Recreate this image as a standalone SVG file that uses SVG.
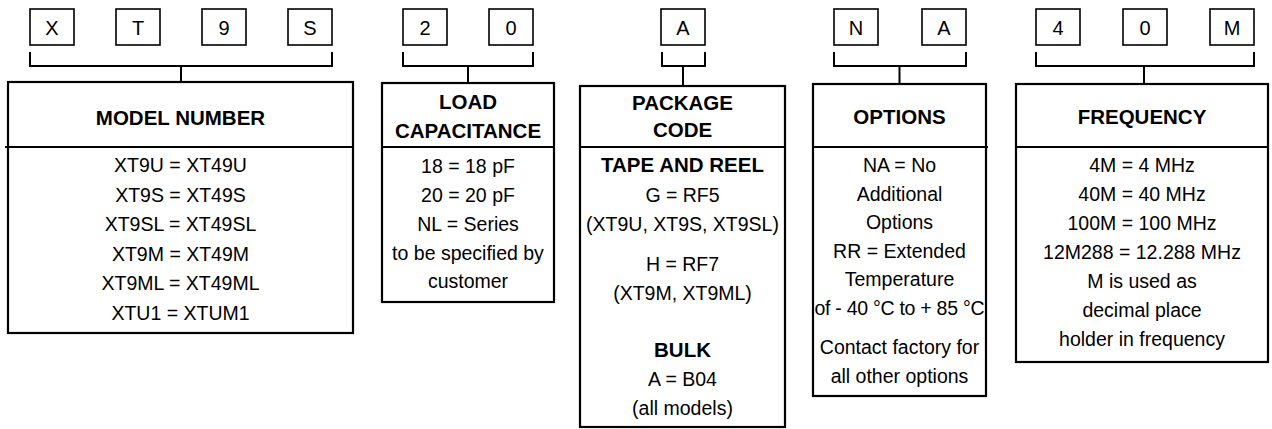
<svg xmlns="http://www.w3.org/2000/svg" width="1272" height="429" viewBox="0 0 1272 429">
<style>
.bg{fill:#ffffff}
.cell{fill:#ffffff;stroke:#000000;stroke-width:1.6}
.box{fill:#ffffff;stroke:#000000;stroke-width:2.2}
.div{stroke:#000000;stroke-width:2.2;fill:none}
.br{stroke:#000000;stroke-width:2;fill:none}
text{font-family:"Liberation Sans",Arial,Helvetica,sans-serif;fill:#000000;text-anchor:middle}
.ch{font-size:20px}
.t{font-size:20.5px;font-weight:bold}
.b{font-size:19.5px}
</style>
<rect class="bg" x="0" y="0" width="1272" height="429"/>

<g id="code-cells">
  <rect class="cell" x="30" y="9" width="44" height="36"/><text class="ch" x="52" y="34.5">X</text>
  <rect class="cell" x="116" y="9" width="44" height="36"/><text class="ch" x="138" y="34.5">T</text>
  <rect class="cell" x="202" y="9" width="44" height="36"/><text class="ch" x="224" y="34.5">9</text>
  <rect class="cell" x="288" y="9" width="44" height="36"/><text class="ch" x="310" y="34.5">S</text>
  <rect class="cell" x="403" y="9" width="44" height="36"/><text class="ch" x="425" y="34.5">2</text>
  <rect class="cell" x="489" y="9" width="44" height="36"/><text class="ch" x="511" y="34.5">0</text>
  <rect class="cell" x="661" y="9" width="44" height="36"/><text class="ch" x="683" y="34.5">A</text>
  <rect class="cell" x="834" y="9" width="44" height="36"/><text class="ch" x="856" y="34.5">N</text>
  <rect class="cell" x="922" y="9" width="44" height="36"/><text class="ch" x="944" y="34.5">A</text>
  <rect class="cell" x="1036" y="9" width="44" height="36"/><text class="ch" x="1058" y="34.5">4</text>
  <rect class="cell" x="1123" y="9" width="44" height="36"/><text class="ch" x="1145" y="34.5">0</text>
  <rect class="cell" x="1210" y="9" width="44" height="36"/><text class="ch" x="1232" y="34.5">M</text>
</g>

<g id="connectors">
  <path class="br" d="M30,52 V66 H332 V52 M181,66 V82"/>
  <path class="br" d="M403,52 V66 H533 V52 M468,66 V83"/>
  <path class="br" d="M662,52 V66 H705 V52 M683,66 V86"/>
  <path class="br" d="M834,52 V66 H966 V52 M899.5,66 V84"/>
  <path class="br" d="M1036,52 V66 H1254 V52 M1144,66 V84"/>
</g>

<g id="model-number">
  <rect class="box" x="8" y="82" width="345" height="251"/>
  <line class="div" x1="5" y1="147" x2="353" y2="147"/>
  <text class="t" x="180.5" y="125">MODEL NUMBER</text>
  <text class="b" x="180.5" y="172">XT9U = XT49U</text>
  <text class="b" x="180.5" y="201.5">XT9S = XT49S</text>
  <text class="b" x="180.5" y="231">XT9SL = XT49SL</text>
  <text class="b" x="180.5" y="260.5">XT9M = XT49M</text>
  <text class="b" x="180.5" y="290">XT9ML = XT49ML</text>
  <text class="b" x="180.5" y="320">XTU1 = XTUM1</text>
</g>

<g id="load-capacitance">
  <rect class="box" x="382" y="83" width="172" height="219"/>
  <line class="div" x1="382" y1="147" x2="554" y2="147"/>
  <text class="t" x="468" y="109">LOAD</text>
  <text class="t" x="468" y="138">CAPACITANCE</text>
  <text class="b" x="468" y="173">18 = 18 pF</text>
  <text class="b" x="468" y="202">20 = 20 pF</text>
  <text class="b" x="468" y="231">NL = Series</text>
  <text class="b" x="468" y="260">to be specified by</text>
  <text class="b" x="468" y="288">customer</text>
</g>

<g id="package-code">
  <rect class="box" x="580" y="86" width="205" height="341"/>
  <line class="div" x1="580" y1="147" x2="785" y2="147"/>
  <text class="t" x="682.5" y="110">PACKAGE</text>
  <text class="t" x="682.5" y="137">CODE</text>
  <text class="t" x="682.5" y="172">TAPE AND REEL</text>
  <text class="b" x="682.5" y="201.5">G = RF5</text>
  <text class="b" x="682.5" y="231">(XT9U, XT9S, XT9SL)</text>
  <text class="b" x="682.5" y="270.5">H = RF7</text>
  <text class="b" x="682.5" y="300">(XT9M, XT9ML)</text>
  <text class="t" x="682.5" y="357">BULK</text>
  <text class="b" x="682.5" y="386">A = B04</text>
  <text class="b" x="682.5" y="415">(all models)</text>
</g>

<g id="options">
  <rect class="box" x="813" y="84" width="173" height="312"/>
  <line class="div" x1="813" y1="147" x2="988" y2="147"/>
  <text class="t" x="899.5" y="124">OPTIONS</text>
  <text class="b" x="899.5" y="172">NA = No</text>
  <text class="b" x="899.5" y="200.5">Additional</text>
  <text class="b" x="899.5" y="229">Options</text>
  <text class="b" x="899.5" y="257.5">RR = Extended</text>
  <text class="b" x="899.5" y="286">Temperature</text>
  <text class="b" x="899.5" y="314.5" textLength="170" lengthAdjust="spacing">of - 40 °C to + 85 °C</text>
  <text class="b" x="899.5" y="354">Contact factory for</text>
  <text class="b" x="899.5" y="382.5">all other options</text>
</g>

<g id="frequency">
  <rect class="box" x="1016" y="84" width="252" height="278"/>
  <line class="div" x1="1016" y1="147" x2="1268" y2="147"/>
  <text class="t" x="1142" y="124">FREQUENCY</text>
  <text class="b" x="1142" y="172">4M = 4 MHz</text>
  <text class="b" x="1142" y="201">40M = 40 MHz</text>
  <text class="b" x="1142" y="230">100M = 100 MHz</text>
  <text class="b" x="1142" y="259">12M288 = 12.288 MHz</text>
  <text class="b" x="1142" y="288">M is used as</text>
  <text class="b" x="1142" y="317">decimal place</text>
  <text class="b" x="1142" y="346">holder in frequency</text>
</g>
</svg>
